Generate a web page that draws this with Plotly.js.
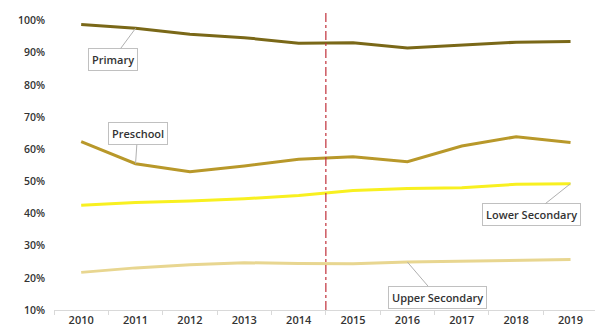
<!DOCTYPE html>
<html><head><meta charset="utf-8">
<script src="https://cdn.plot.ly/plotly-3.0.1.min.js"></script>
<style>html,body{margin:0;padding:0;background:#fff;}#chart{width:595px;height:335px;}</style>
</head><body><div id="chart"></div>
<script>
const years = ['2010','2011','2012','2013','2014','2015','2016','2017','2018','2019'];
const primary = [0.988,0.976,0.958,0.947,0.930,0.931,0.915,0.925,0.933,0.935];
const preschool = [0.624,0.555,0.530,0.548,0.569,0.577,0.561,0.610,0.639,0.621];
const lowerSecondary = [0.426,0.434,0.439,0.446,0.456,0.472,0.478,0.480,0.491,0.493];
const upperSecondary = [0.217,0.231,0.241,0.247,0.245,0.244,0.249,0.252,0.255,0.257];
const seriesNames = ['Primary','Preschool','Lower Secondary','Upper Secondary'];
const yTicks = [0.1,0.2,0.3,0.4,0.5,0.6,0.7,0.8,0.9,1.0];

const colors = ['#7a6818','#b8982a','#f8f020','#e8d690'];
const data = [primary, preschool, lowerSecondary, upperSecondary].map((v,i)=>({
  x: years, y: v, type:'scatter', mode:'lines', name: seriesNames[i],
  line:{color: colors[i], width: 3, shape:'linear'}
}));

function ann(text, xi, yv, ax, ay){
  return {x: xi, y: yv, xref:'x', yref:'y', text: text, showarrow:true,
    arrowhead:0, arrowwidth:1, arrowcolor:'#b0b0b0', ax: ax, ay: ay,
    bgcolor:'#ffffff', bordercolor:'#c0c0c0', borderwidth:1, borderpad:3,
    font:{family:'Open Sans, sans-serif', size:11, color:'#333', weight:600}};
}

const layout = {
  width:595, height:335,
  margin:{l:54, r:0, t:11, b:25},
  paper_bgcolor:'#fff', plot_bgcolor:'#fff',
  showlegend:false,
  font:{family:'Open Sans, sans-serif', size:11, color:'#404040'},
  xaxis:{type:'category', range:[-0.5, 9.45], showgrid:false, zeroline:false,
    showline:true, linecolor:'#d9d9d9', linewidth:1,
    ticks:'outside', ticklen:4, tickcolor:'#d9d9d9', tickson:'boundaries',
    tickfont:{size:11, color:'#333', weight:600}},
  yaxis:{range:[0.10,1.03], tickvals: yTicks, tickformat:'.0%', showgrid:false,
    zeroline:false, showline:false, ticks:'', ticklabelstandoff: 8,
    tickfont:{size:10.5, color:'#333', weight:600}},
  shapes:[{type:'line', xref:'x', yref:'paper', x0:4.5, x1:4.5, y0:0, y1:1,
    line:{color:'#c0303a', width:1.2, dash:'dashdot'}}],
  annotations:[
    ann('Primary', 1, primary[1], -23, 31),
    ann('Preschool', 1, preschool[1], 2, -30),
    ann('Lower Secondary', 9, lowerSecondary[9], -39, 31),
    ann('Upper Secondary', 6, upperSecondary[6], 30, 35)
  ]
};
Plotly.newPlot('chart', data, layout, {displayModeBar:false, staticPlot:true});
</script></body></html>
